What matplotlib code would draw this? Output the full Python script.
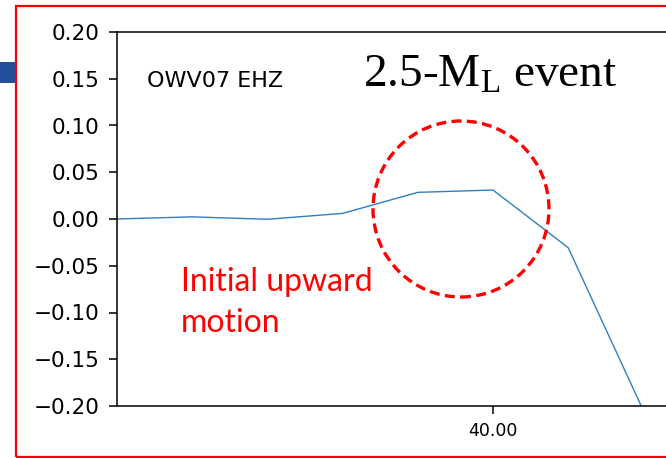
import matplotlib.pyplot as plt
from matplotlib.patches import Rectangle, Ellipse

plt.rcParams['mathtext.fontset'] = 'custom'
plt.rcParams['mathtext.rm'] = 'Liberation Serif'

# samples around the first arrival
sample = [35, 36, 37, 38, 39, 40, 41, 42]
amplitude = [0.0, 0.0023, -0.0003, 0.006, 0.0285, 0.031, -0.0307, -0.205]
yticks = [0.20, 0.15, 0.10, 0.05, 0.00, -0.05, -0.10, -0.15, -0.20]
xticks = [40]

W, H = 666, 458
fig = plt.figure(figsize=(W / 100, H / 100), dpi=100)

# slide decorations
fig.patches.append(Rectangle((0, 1 - 83 / H), 15 / W, 21 / H, transform=fig.transFigure,
                             facecolor='#214f9a', edgecolor='none', zorder=0))
fig.patches.append(Rectangle((16 / W, 1 - 457 / H), 1.1, 451 / H, transform=fig.transFigure,
                             facecolor='none', edgecolor='red', linewidth=1.6, zorder=5))

ax = fig.add_axes([117 / W, 1 - 406 / H, 564 / W, 374 / H])
ax.plot(sample, amplitude, color='#2f7fc1', linewidth=1.0)
ax.set_xlim(35, 42.5)
ax.set_ylim(-0.2, 0.2)
ax.set_yticks(yticks)
ax.set_yticklabels([f'{v:.2f}'.replace('-', '\u2212') for v in yticks])
ax.set_xticks(xticks)
ax.set_xticklabels([f'{v:.2f}' for v in xticks])
ax.tick_params(axis='y', labelsize=15.5, length=5.5, width=1.1, pad=7)
ax.tick_params(axis='x', labelsize=12.5, length=5.5, width=1.1, pad=6)
for s in ax.spines.values():
    s.set_linewidth(1.1)

fig.text(147 / W, 1 - 87 / H, 'OWV07 EHZ', fontsize=16, va='baseline', ha='left')
fig.text(363 / W, 1 - 87 / H, r'2.5-$\mathrm{M_L}$ event', fontsize=34,
         family='Liberation Serif', va='baseline', ha='left')
fig.text(181 / W, 1 - 267 / H, 'Initial upward\nmotion', fontsize=23, family='Lato',
         color='red', va='top', ha='left', linespacing=1.45)

fig.patches.append(Ellipse((461 / W, 1 - 209 / H), 176 / W, 176 / H, transform=fig.transFigure,
                           facecolor='none', edgecolor='red', linewidth=2.4,
                           linestyle=(0, (3, 1.6)), zorder=6))

fig.savefig('out.png', dpi=100)
